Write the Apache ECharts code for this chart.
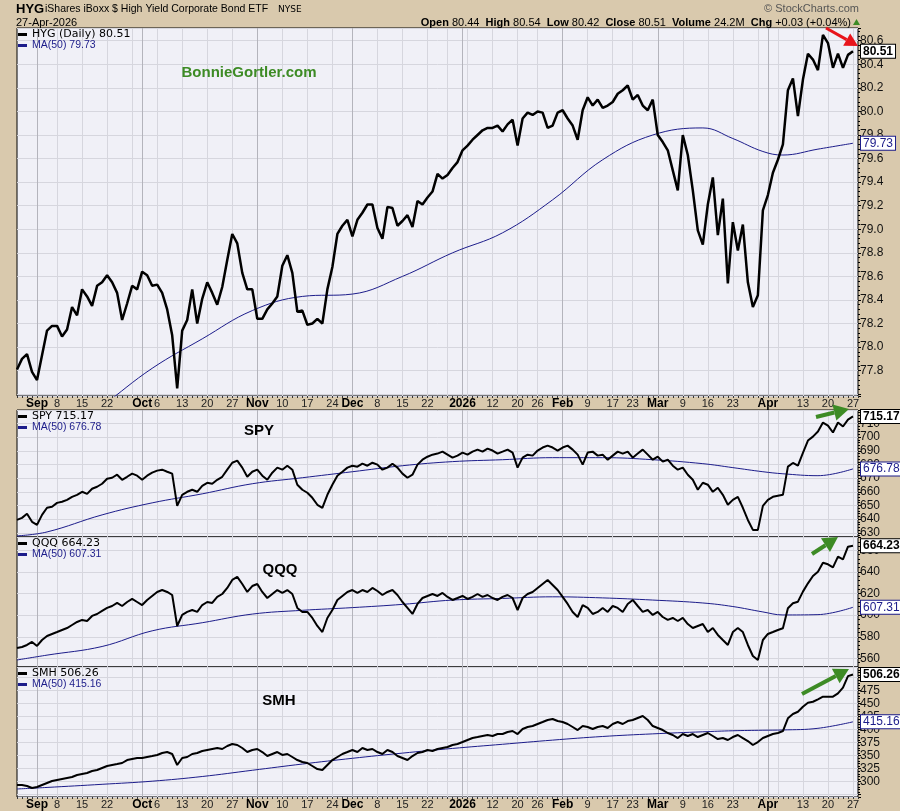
<!DOCTYPE html>
<html>
<head>
<meta charset="utf-8">
<script src="https://cdn.jsdelivr.net/npm/echarts@6/dist/echarts.min.js"></script>
<style>
  html, body { margin: 0; padding: 0; background: #d9c9ad; }
  #chart { width: 900px; height: 811px; }
</style>
</head>
<body>
<div id="chart"></div>
<script>
// trading days on the chart, per month
const tradingDays = [
  ['2025-08', [26, 27, 28, 29]],
  ['2025-09', [2, 3, 4, 5, 8, 9, 10, 11, 12, 15, 16, 17, 18, 19, 22, 23, 24, 25, 26, 29, 30]],
  ['2025-10', [1, 2, 3, 6, 7, 8, 9, 10, 13, 14, 15, 16, 17, 20, 21, 22, 23, 24, 27, 28, 29, 30, 31]],
  ['2025-11', [3, 4, 5, 6, 7, 10, 11, 12, 13, 14, 17, 18, 19, 20, 21, 24, 25, 26, 28]],
  ['2025-12', [1, 2, 3, 4, 5, 8, 9, 10, 11, 12, 15, 16, 17, 18, 19, 22, 23, 24, 26, 29, 30, 31]],
  ['2026-01', [2, 5, 6, 7, 8, 9, 12, 13, 14, 15, 16, 20, 21, 22, 23, 26, 27, 28, 29, 30]],
  ['2026-02', [2, 3, 4, 5, 6, 9, 10, 11, 12, 13, 17, 18, 19, 20, 23, 24, 25, 26, 27]],
  ['2026-03', [2, 3, 4, 5, 6, 9, 10, 11, 12, 13, 16, 17, 18, 19, 20, 23, 24, 25, 26, 27, 30, 31]],
  ['2026-04', [1, 2, 6, 7, 8, 9, 10, 13, 14, 15, 16, 17, 20, 21, 22, 23, 24, 27]]
];

// date axis labels
const tickDates = ['2025-09-02', '2025-09-08', '2025-09-15', '2025-09-22', '2025-10-01', '2025-10-06', '2025-10-13',
  '2025-10-20', '2025-10-27', '2025-11-03', '2025-11-10', '2025-11-17', '2025-11-24', '2025-12-01', '2025-12-08',
  '2025-12-15', '2025-12-22', '2026-01-02', '2026-01-12', '2026-01-20', '2026-01-26', '2026-02-02', '2026-02-09',
  '2026-02-17', '2026-02-23', '2026-03-02', '2026-03-09', '2026-03-16', '2026-03-23', '2026-04-01', '2026-04-13',
  '2026-04-20', '2026-04-27'];
const tickTexts = ['Sep', '8', '15', '22', 'Oct', '6', '13', '20', '27', 'Nov', '10', '17', '24', 'Dec', '8', '15', '22',
  '2026', '12', '20', '26', 'Feb', '9', '17', '23', 'Mar', '9', '16', '23', 'Apr', '13', '20', '27'];
const monthTexts = ['Sep', 'Oct', 'Nov', 'Dec', '2026', 'Feb', 'Mar', 'Apr'];

// daily closes
const hygClose = [
  77.81, 77.90, 77.94, 77.79, 77.72, 77.93, 78.14, 78.18, 78.18, 78.09,
  78.15, 78.34, 78.27, 78.49, 78.43, 78.35, 78.52, 78.55, 78.61, 78.55,
  78.46, 78.23, 78.37, 78.52, 78.49, 78.64, 78.61, 78.52, 78.53, 78.46,
  78.32, 78.10, 77.65, 78.14, 78.23, 78.49, 78.20, 78.41, 78.55, 78.46,
  78.36, 78.51, 78.74, 78.96, 78.88, 78.63, 78.49, 78.49, 78.24, 78.24,
  78.32, 78.37, 78.43, 78.69, 78.78, 78.63, 78.30, 78.31, 78.19, 78.20,
  78.24, 78.20, 78.49, 78.68, 78.96, 79.03, 79.08, 78.94, 79.08, 79.14,
  79.21, 79.21, 79.01, 78.92, 79.19, 79.18, 79.03, 79.07, 79.12, 79.02,
  79.24, 79.21, 79.27, 79.32, 79.47, 79.43, 79.46, 79.52, 79.57, 79.67,
  79.71, 79.76, 79.80, 79.84, 79.86, 79.86, 79.88, 79.83, 79.89, 79.93,
  79.71, 79.94, 79.99, 79.97, 80.00, 79.99, 79.86, 79.88, 79.99, 80.01,
  79.94, 79.88, 79.76, 80.01, 80.12, 80.05, 80.10, 80.03, 80.05, 80.08,
  80.15, 80.18, 80.22, 80.10, 80.14, 80.05, 80.01, 80.10, 79.80, 79.74,
  79.67, 79.50, 79.33, 79.80, 79.63, 79.33, 78.99, 78.87, 79.21, 79.44,
  78.95, 79.26, 78.54, 79.06, 78.82, 79.04, 78.55, 78.34, 78.44, 79.16,
  79.29, 79.48, 79.59, 79.72, 80.18, 80.28, 79.96, 80.27, 80.49, 80.44,
  80.35, 80.65, 80.58, 80.37, 80.49, 80.37, 80.48, 80.51
];
const spyClose = [
  639.4, 640.9, 643.9, 638.0, 635.8, 643.1, 648.3, 649.0, 651.9, 652.7,
  654.1, 656.3, 657.8, 660.0, 658.5, 662.2, 663.7, 665.9, 669.6, 670.3,
  672.5, 668.8, 671.0, 673.3, 671.8, 668.8, 671.8, 674.0, 675.5, 676.2,
  674.7, 673.3, 649.7, 657.8, 660.0, 661.5, 660.0, 664.4, 666.6, 665.9,
  668.8, 671.0, 676.2, 681.3, 682.8, 677.7, 671.0, 674.7, 676.2, 671.8,
  668.8, 674.0, 677.7, 676.2, 679.1, 676.2, 665.2, 661.5, 659.3, 655.6,
  650.5, 648.3, 657.8, 665.2, 671.8, 674.7, 677.7, 679.1, 678.4, 680.6,
  679.1, 681.3, 679.9, 676.2, 677.7, 680.6, 677.7, 673.3, 670.3, 672.5,
  679.9, 683.5, 685.7, 687.2, 688.0, 689.4, 687.2, 685.0, 686.5, 688.7,
  687.2, 689.4, 690.9, 689.4, 691.6, 690.2, 688.0, 689.4, 690.9, 688.7,
  677.7, 685.0, 687.2, 686.5, 690.2, 692.4, 693.8, 692.4, 690.2, 692.4,
  693.8, 690.9, 687.2, 679.9, 688.7, 689.4, 686.5, 687.2, 683.5, 686.5,
  689.4, 688.0, 689.4, 685.0, 688.0, 690.9, 687.2, 683.5, 685.7, 682.1,
  683.5, 679.1, 676.2, 677.7, 672.5, 668.8, 661.5, 666.6, 665.2, 660.0,
  663.0, 657.8, 650.5, 654.1, 656.3, 648.3, 639.4, 632.1, 632.1, 649.7,
  654.1, 656.3, 657.1, 657.8, 678.4, 681.1, 679.1, 688.5, 697.5, 700.4,
  704.1, 710.7, 708.5, 703.4, 710.7, 707.8, 712.9, 715.17
];
const qqqClose = [
  569.6, 570.5, 572.4, 575.2, 571.5, 577.0, 580.7, 582.6, 584.4, 586.3,
  588.1, 590.9, 593.7, 595.6, 594.6, 599.3, 601.1, 603.9, 606.7, 608.5,
  611.3, 608.5, 612.2, 615.0, 612.2, 609.4, 614.1, 617.8, 621.5, 623.3,
  621.5, 618.7, 590.0, 600.2, 603.0, 604.8, 603.0, 609.4, 612.2, 611.3,
  616.9, 619.6, 625.2, 632.6, 635.4, 628.9, 621.5, 627.0, 628.9, 621.5,
  615.9, 619.6, 623.3, 620.6, 623.3, 619.6, 606.7, 603.0, 603.0, 597.4,
  590.0, 584.4, 597.4, 604.8, 614.1, 617.8, 621.5, 623.3, 620.6, 623.3,
  621.5, 625.2, 622.4, 618.7, 621.5, 623.3, 618.7, 612.2, 606.7, 601.1,
  610.4, 615.9, 617.8, 619.6, 617.8, 620.6, 616.9, 614.1, 615.9, 617.8,
  615.0, 616.9, 619.6, 616.9, 618.7, 615.9, 614.1, 616.9, 618.7, 615.9,
  604.8, 615.9, 619.6, 621.5, 625.2, 628.9, 632.6, 628.0, 623.3, 616.9,
  610.4, 603.0, 598.3, 609.4, 606.7, 601.1, 603.0, 606.7, 603.0, 608.5,
  606.7, 603.0, 610.4, 614.1, 608.5, 603.0, 604.8, 600.2, 603.0, 598.3,
  595.6, 597.4, 594.6, 597.4, 591.8, 588.1, 590.0, 591.8, 584.4, 588.1,
  581.7, 577.0, 572.4, 584.4, 588.1, 584.4, 572.4, 562.2, 558.5, 577.0,
  582.6, 584.4, 586.3, 587.9, 606.4, 611.0, 612.5, 621.8, 629.5, 636.3,
  640.3, 648.6, 647.1, 644.3, 654.2, 651.7, 663.4, 664.23
];
const smhClose = [
  293.7, 293.7, 291.7, 287.9, 289.8, 293.7, 297.5, 301.3, 303.3, 305.2,
  307.1, 309.0, 312.9, 314.8, 316.7, 320.6, 322.5, 326.4, 330.2, 332.1,
  334.0, 336.0, 341.7, 343.7, 345.6, 345.6, 347.5, 349.4, 351.4, 355.2,
  357.1, 353.3, 332.1, 345.6, 347.5, 353.3, 355.2, 359.0, 361.0, 362.9,
  364.8, 362.9, 368.7, 372.5, 370.6, 364.8, 357.1, 361.0, 362.9, 357.1,
  349.4, 353.3, 357.1, 351.4, 353.3, 347.5, 341.7, 337.9, 336.0, 330.2,
  324.4, 322.5, 332.1, 341.7, 347.5, 353.3, 357.1, 361.0, 357.1, 364.8,
  361.0, 362.9, 357.1, 353.3, 361.0, 357.1, 349.4, 345.6, 341.7, 349.4,
  355.2, 357.1, 361.0, 359.0, 362.9, 364.8, 366.7, 370.6, 372.5, 376.3,
  380.2, 384.0, 385.9, 387.9, 389.8, 387.9, 391.7, 391.7, 395.6, 397.5,
  391.7, 401.3, 405.2, 407.1, 411.0, 414.8, 418.7, 420.6, 416.7, 414.8,
  411.0, 405.2, 399.4, 407.1, 405.2, 401.3, 405.2, 407.1, 403.3, 411.0,
  414.8, 411.0, 416.7, 418.7, 422.5, 426.3, 418.7, 407.1, 403.3, 399.4,
  393.7, 389.8, 384.0, 391.7, 387.9, 391.7, 385.9, 389.8, 393.7, 387.9,
  382.1, 384.0, 380.2, 385.9, 389.8, 384.0, 378.2, 370.6, 376.3, 384.0,
  387.9, 391.7, 393.7, 397.5, 421.9, 430.2, 434.6, 444.2, 451.9, 453.8,
  458.5, 463.5, 463.5, 463.5, 470.0, 481.0, 503.0, 506.26
];

// 50-day moving averages, read at these dates
const maDates = ['2025-08-26', '2025-09-04', '2025-09-19', '2025-10-03', '2025-10-17', '2025-10-31', '2025-11-14',
  '2025-12-01', '2025-12-15', '2025-12-30', '2026-01-14', '2026-01-29', '2026-02-12', '2026-02-27', '2026-03-13',
  '2026-03-23', '2026-03-31', '2026-04-07', '2026-04-16', '2026-04-27'];
const hygMA = [76.99, 77.17, 77.50, 77.82, 78.07, 78.31, 78.43, 78.45, 78.60, 78.80,
  78.97, 79.25, 79.59, 79.80, 79.86, 79.77, 79.66, 79.63, 79.68, 79.73];
const spyMA = [627.7, 630.6, 643.1, 651.9, 658.5, 665.9, 670.3, 674.7, 679.1, 682.1,
  683.5, 685.0, 685.0, 683.5, 680.6, 677.7, 674.7, 673.2, 671.8, 676.78];
const qqqMA = [558.5, 563.0, 571.0, 585.5, 593.0, 601.0, 604.5, 607.0, 610.0, 614.0,
  615.5, 617.0, 616.0, 614.0, 611.3, 608.0, 603.0, 600.2, 600.5, 607.31];
const smhMA = [286.0, 289.0, 295.0, 301.0, 310.0, 322.0, 334.0, 345.0, 355.0, 364.0,
  372.0, 380.0, 387.0, 392.0, 396.0, 398.0, 399.0, 399.5, 402.7, 415.16];

const dates = [];
tradingDays.forEach(([ym, days]) => days.forEach(d => dates.push(ym + '-' + String(d).padStart(2, '0'))));
const categories = dates.concat(['']);
const tickMap = new Map(tickDates.map((d, i) => [d, tickTexts[i]]));

const weekStart = new Set(), monthStart = new Set();
for (let i = 1; i < dates.length; i++) {
  const a = new Date(dates[i - 1] + 'T00:00:00Z'), b = new Date(dates[i] + 'T00:00:00Z');
  if (b.getUTCDay() <= a.getUTCDay() || b - a >= 7 * 86400000) weekStart.add(dates[i]);
  if (dates[i].slice(0, 7) !== dates[i - 1].slice(0, 7)) monthStart.add(dates[i]);
}

const NAVY = '#1c1c8a';
const GREEN = '#3d8b25';
const FONT = 'Liberation Sans';

const panels = [
  { label: 'HYG (Daily)', close: hygClose, ma: hygMA, top: 28, height: 368, min: 77.585, max: 80.708, step: 0.2, digits: 1, lw: 2.5 },
  { label: 'SPY', close: spyClose, ma: spyMA, top: 410, height: 127, min: 626.9, max: 719.9, step: 10, digits: 0, lw: 2 },
  { label: 'QQQ', close: qqqClose, ma: qqqMA, top: 537, height: 130, min: 552, max: 672.4, step: 20, digits: 0, lw: 2 },
  { label: 'SMH', close: smhClose, ma: smhMA, top: 667, height: 130, min: 270.6, max: 520.6, step: 25, digits: 0, lw: 2 }
];
panels.forEach(p => {
  p.name = p.label + ' ' + p.close[p.close.length - 1].toFixed(2);
  p.maName = 'MA(50) ' + p.ma[p.ma.length - 1].toFixed(2);
});

const grids = [], xAxes = [], yAxes = [], series = [], legends = [];
panels.forEach((p, i) => {
  const withDates = i === 0 || i === 3;
  grids.push({ left: 17, right: 42, top: p.top, height: p.height, show: true,
    backgroundColor: '#f0f0f7', borderColor: '#000', borderWidth: 1 });
  xAxes.push({
    type: 'category', gridIndex: i, data: categories, boundaryGap: false, position: 'bottom',
    axisLine: { show: false },
    axisTick: { show: withDates, interval: 0, length: 2, lineStyle: { color: '#333' } },
    axisLabel: {
      show: withDates, margin: 2, interval: (idx, v) => tickMap.has(v),
      formatter: v => {
        const t = tickMap.get(v);
        return monthTexts.includes(t) ? '{m|' + t + '}' : '{d|' + t + '}';
      },
      rich: {
        m: { fontFamily: FONT, fontWeight: 'bold', fontSize: 12, color: '#000' },
        d: { fontFamily: FONT, fontSize: 11, color: '#222' }
      }
    },
    splitLine: { show: true, interval: (idx, v) => weekStart.has(v), lineStyle: { color: '#d6d6de', width: 1 } }
  });
  xAxes.push({
    type: 'category', gridIndex: i, data: categories, boundaryGap: false, position: 'top',
    axisLine: { show: false }, axisTick: { show: false }, axisLabel: { show: false },
    splitLine: { show: true, interval: (idx, v) => monthStart.has(v), lineStyle: { color: '#b4b4bc', width: 1 } }
  });
  yAxes.push({
    type: 'value', gridIndex: i, position: 'right', min: p.min, max: p.max,
    minInterval: p.step, maxInterval: p.step, splitNumber: Math.round((p.max - p.min) / p.step),
    axisLine: { show: false },
    axisTick: { show: true, length: 3, lineStyle: { color: '#000' } },
    minorTick: { show: true, splitNumber: 5, length: 2, lineStyle: { color: '#000' } },
    axisLabel: {
      margin: 2, fontFamily: FONT, fontSize: 12, color: '#111', showMinLabel: false, showMaxLabel: false,
      formatter: v => {
        const px = (v - p.min) / (p.max - p.min) * p.height;
        return (px < 3 || px > p.height - 3) ? '' : v.toFixed(p.digits);
      }
    },
    splitLine: { show: true, lineStyle: { color: '#d6d6de', width: 1 } }
  });
  series.push({
    type: 'line', name: p.name, xAxisIndex: i * 2, yAxisIndex: i, data: p.close,
    symbol: 'none', lineStyle: { color: '#000', width: p.lw }, itemStyle: { color: '#000' }, z: 3,
    endLabel: {
      show: true, distance: 8, formatter: o => o.value.toFixed(2),
      fontFamily: FONT, fontWeight: 'bold', fontSize: 12, color: '#000',
      backgroundColor: '#fff', borderColor: '#000', borderWidth: 1, padding: [1, 2, 0, 2]
    }
  });
  series.push({
    type: 'line', name: p.maName, xAxisIndex: i * 2, yAxisIndex: i,
    data: maDates.map((d, k) => [d, p.ma[k]]), smooth: 0.4,
    symbol: 'none', lineStyle: { color: NAVY, width: 1 }, itemStyle: { color: NAVY }, z: 2,
    endLabel: {
      show: true, distance: 8, formatter: o => o.value[1].toFixed(2),
      fontFamily: FONT, fontSize: 12, color: NAVY,
      backgroundColor: '#fff', borderColor: NAVY, borderWidth: 1, padding: [1, 2, 0, 2]
    }
  });
  legends.push({
    left: 18, top: p.top + 1, orient: 'vertical', itemGap: 0, itemWidth: 9, itemHeight: 3, icon: 'rect',
    padding: 0, selectedMode: false,
    data: [
      { name: p.name, textStyle: { fontFamily: 'DejaVu Sans', fontSize: 11, color: '#000' } },
      { name: p.maName, textStyle: { fontFamily: FONT, fontSize: 10.5, color: NAVY } }
    ]
  });
});

function arrow(x1, y1, x2, y2, color, w, head) {
  const ang = Math.atan2(y2 - y1, x2 - x1);
  const bx = x2 - Math.cos(ang) * head, by = y2 - Math.sin(ang) * head;
  const nx = -Math.sin(ang) * head * 0.55, ny = Math.cos(ang) * head * 0.55;
  return [
    { type: 'polyline', z: 50, shape: { points: [[x1, y1], [bx, by]] }, style: { stroke: color, lineWidth: w } },
    { type: 'polygon', z: 50, shape: { points: [[x2, y2], [bx + nx, by + ny], [bx - nx, by - ny]] }, style: { fill: color } }
  ];
}

const txt = (x, y, text, font, fill, align) => ({
  type: 'text', x: x, y: y, z: 50,
  style: { text: text, font: font, fill: fill || '#000', align: align || 'left', verticalAlign: 'middle' }
});

const graphics = [
  txt(16, 9, 'HYG', 'bold 13px ' + FONT),
  txt(45, 9, 'iShares iBoxx $ High Yield Corporate Bond ETF', '10.5px ' + FONT),
  txt(278, 10, 'NYSE', '9px DejaVu Sans'),
  txt(16, 23, '27-Apr-2026', '11px ' + FONT),
  txt(859, 9, '\u00a9 StockCharts.com', '11px ' + FONT, '#555', 'right'),
  {
    type: 'text', x: 851, y: 23, z: 50,
    style: {
      text: '{b|Open} 80.44  {b|High} 80.54  {b|Low} 80.42  {b|Close} 80.51  {b|Volume} 24.2M  {b|Chg} +0.03 (+0.04%)',
      font: '11px ' + FONT, fill: '#000', align: 'right', verticalAlign: 'middle',
      rich: { b: { font: 'bold 11px ' + FONT, fill: '#000' } }
    }
  },
  { type: 'polygon', z: 50, shape: { points: [[853, 25], [860, 25], [856.5, 19]] }, style: { fill: GREEN } },
  txt(249, 73, 'BonnieGortler.com', 'bold 15px ' + FONT, GREEN, 'center'),
  txt(259, 431, 'SPY', 'bold 15px ' + FONT, '#000', 'center'),
  txt(280, 570, 'QQQ', 'bold 15px ' + FONT, '#000', 'center'),
  txt(279, 701, 'SMH', 'bold 15px ' + FONT, '#000', 'center')
].concat(
  arrow(826, 28, 858, 46, '#e8141b', 3, 13),
  arrow(816, 417, 849, 409, GREEN, 4, 15),
  arrow(812, 554, 838, 537, GREEN, 4, 15),
  arrow(802, 694, 849, 669, GREEN, 4, 15)
);

const chart = echarts.init(document.getElementById('chart'));
chart.setOption({
  animation: false,
  backgroundColor: '#d9c9ad',
  textStyle: { fontFamily: FONT },
  grid: grids,
  xAxis: xAxes,
  yAxis: yAxes,
  legend: legends,
  series: series,
  graphic: graphics
});
</script>
</body>
</html>
